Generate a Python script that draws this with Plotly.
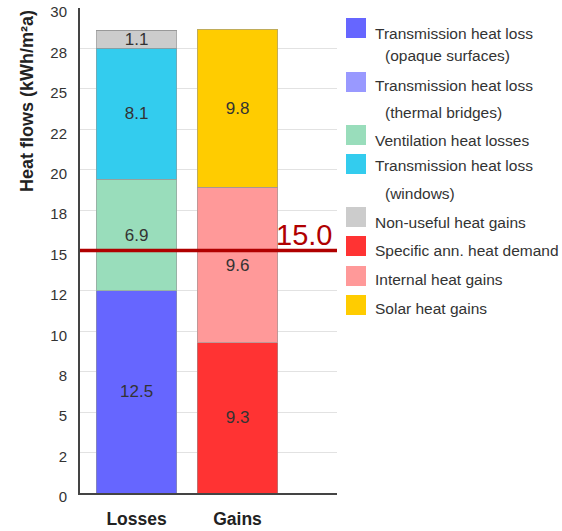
import plotly.graph_objects as go

# Categories and stacked heat-flow components (kWh/m²a)
categories = ["Losses", "Gains"]
series_names = [
    "Transmission heat loss (opaque surfaces)",
    "Transmission heat loss (thermal bridges)",
    "Ventilation heat losses",
    "Transmission heat loss (windows)",
    "Non-useful heat gains",
    "Specific ann. heat demand",
    "Internal heat gains",
    "Solar heat gains",
]
opaque_surfaces = [12.5, 0.0]
thermal_bridges = [0.0, 0.0]
ventilation = [6.9, 0.0]
windows = [8.1, 0.0]
non_useful_gains = [1.1, 0.0]
heat_demand = [0.0, 9.3]
internal_gains = [0.0, 9.6]
solar_gains = [0.0, 9.8]

heat_demand_limit = 15.0

tick_values = [0, 2.5, 5, 7.5, 10, 12.5, 15, 17.5, 20, 22.5, 25, 27.5, 30]
tick_labels = ["0", "2", "5", "8", "10", "12", "15", "18", "20", "22", "25", "28", "30"]

legend_lines = [
    ["Transmission heat loss", "(opaque surfaces)"],
    ["Transmission heat loss", "(thermal bridges)"],
    ["Ventilation heat losses"],
    ["Transmission heat loss", "(windows)"],
    ["Non-useful heat gains"],
    ["Specific ann. heat demand"],
    ["Internal heat gains"],
    ["Solar heat gains"],
]

colors = ["#6666ff", "#9999ff", "#99ddbb", "#33ccee", "#cccccc",
          "#ff3333", "#ff9999", "#ffcc00"]

all_series = [opaque_surfaces, thermal_bridges, ventilation, windows,
              non_useful_gains, heat_demand, internal_gains, solar_gains]

FONT = "Arial, Liberation Sans, sans-serif"
TEXT = "#333333"

# plot area geometry in pixels
W, H = 562, 531
L, R, T, B = 80, 337, 8, 493


def px_x(px):
    return (px - L) / (R - L)


def px_y(py):
    return (B - py) / (B - T)


fig = go.Figure()
x_pos = list(range(len(categories)))
for name, vals, col in zip(series_names, all_series, colors):
    fig.add_trace(go.Bar(
        x=x_pos, y=vals, name=name,
        marker=dict(color=col, line=dict(color="rgba(150,150,150,0.6)", width=1)),
        text=[f"{v:.1f}" if v else "" for v in vals],
        textposition="inside", insidetextanchor="middle", textangle=0,
        textfont=dict(family=FONT, size=17, color=TEXT),
        showlegend=False, hoverinfo="skip",
    ))

shapes = [dict(type="line", xref="paper", x0=0, x1=1, yref="y",
               y0=heat_demand_limit, y1=heat_demand_limit,
               line=dict(color="#b00000", width=3.5), layer="above")]
annotations = [
    dict(text=f"{heat_demand_limit:.1f}", xref="paper", x=1, xanchor="right",
         xshift=-3, yref="y", y=heat_demand_limit, yanchor="bottom", yshift=-2,
         showarrow=False, font=dict(family=FONT, size=29, color="#b00000")),
    dict(text="<b>Heat flows (kWh/m²a)</b>", textangle=-90, xref="paper", x=0,
         xshift=-53, xanchor="center", yref="paper", y=1, yanchor="top",
         showarrow=False, font=dict(family=FONT, size=18, color="#222222")),
]

# legend drawn as swatches and captions beside the plot
sq_tops = [18, 72, 125, 154, 207, 236, 266, 295]
line_y = [[33, 56], [86, 112], [140], [166, 193], [222], [250], [279], [308]]
for top, col, lines, ys in zip(sq_tops, colors, legend_lines, line_y):
    shapes.append(dict(type="rect", xref="paper", yref="paper",
                       x0=px_x(346), x1=px_x(366), y0=px_y(top + 20), y1=px_y(top),
                       fillcolor=col, line=dict(width=0)))
    for i, (txt, yy) in enumerate(zip(lines, ys)):
        annotations.append(dict(
            text=txt, xref="paper", yref="paper",
            x=px_x(373 if i == 0 else 383), y=px_y(yy),
            xanchor="left", yanchor="middle", showarrow=False,
            font=dict(family=FONT, size=15.5, color=TEXT)))

fig.update_layout(
    width=W, height=H, barmode="stack", bargap=0.2,
    margin=dict(l=L, r=W - R, t=T, b=H - B),
    paper_bgcolor="white", plot_bgcolor="white",
    uniformtext=dict(minsize=16, mode="show"),
    shapes=shapes, annotations=annotations,
    xaxis=dict(range=[-0.56, 1.985], tickvals=x_pos, ticktext=categories,
               tickfont=dict(family=FONT, size=17.5, color="#222222", weight="bold"),
               ticklabelstandoff=9, showgrid=False, zeroline=False,
               showline=True, linecolor="#444444", linewidth=2, automargin=False),
    yaxis=dict(range=[0, 30], tickvals=tick_values, ticktext=tick_labels,
               tickfont=dict(family=FONT, size=15, color=TEXT),
               ticklabelstandoff=8, ticklabelshift=4,
               showgrid=True, gridcolor="#e2e2e2", gridwidth=1, zeroline=False,
               showline=True, linecolor="#444444", linewidth=2, automargin=False),
)

fig.write_html("out.html")
